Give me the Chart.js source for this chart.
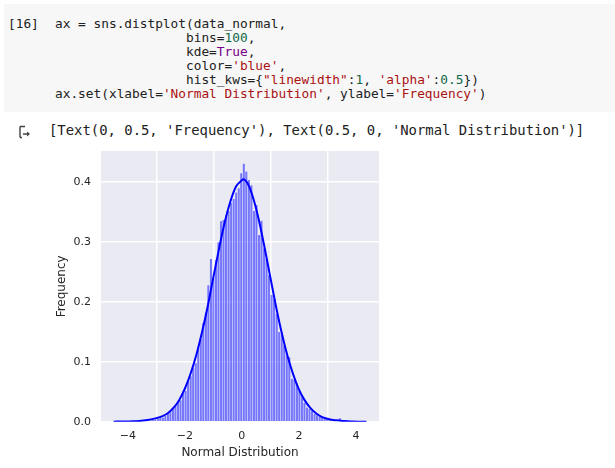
<!DOCTYPE html>
<html>
<head>
<meta charset="utf-8">
<script src="https://cdn.jsdelivr.net/npm/chart.js@4.4.0/dist/chart.umd.min.js"></script>
<style>
  html, body { margin: 0; padding: 0; background: #fff; width: 615px; height: 468px; overflow: hidden; }
  .cell { position: absolute; left: 4px; top: 4px; width: 611px; height: 108px; background: #f7f7f7; }
  .prompt, pre.code { position: absolute; top: 17px; margin: 0; font: 12.8px/13.9px "DejaVu Sans Mono", monospace; color: #212121; }
  .prompt { left: 8px; }
  pre.code { left: 55px; }
  .num { color: #116644; }
  .kw { color: #770088; }
  .str { color: #a11; }
  .out { position: absolute; left: 49px; top: 121px; font: 13.9px/18px "DejaVu Sans Mono", monospace; color: #212121; white-space: pre; }
  svg.icon { position: absolute; left: 18px; top: 125px; }
  #chart { position: absolute; left: 0; top: 0; }
</style>
</head>
<body>
<div class="cell"></div>
<div class="prompt">[16]</div>
<pre class="code">ax = sns.distplot(data_normal,
                 bins=<span class="num">100</span>,
                 kde=<span class="kw">True</span>,
                 color=<span class="str">'blue'</span>,
                 hist_kws={<span class="str">"linewidth"</span>:<span class="num">1</span>, <span class="str">'alpha'</span>:<span class="num">0.5</span>})
ax.set(xlabel=<span class="str">'Normal Distribution'</span>, ylabel=<span class="str">'Frequency'</span>)</pre>
<svg class="icon" width="14" height="14" viewBox="0 0 14 14">
  <path d="M2 1.5 H7 M2 1.5 V12.5 M2 12.5 H4 M5 9 H11" stroke="#424242" stroke-width="1.4" fill="none"/>
  <path d="M9 6.5 L12 9 L9 11.5 Z" fill="#424242"/>
</svg>
<div class="out">[Text(0, 0.5, 'Frequency'), Text(0.5, 0, 'Normal Distribution')]</div>
<canvas id="chart" width="615" height="468"></canvas>

<script>
// histogram bins (density), 100 bins between the data min and max
const binLo = -4.50, binHi = 4.37, binCount = 100;
const binHeights = [
  0.001, 0, 0, 0, 0, 0.001, 0, 0, 0.001, 0,
  0.001, 0.001, 0.001, 0.002, 0.002, 0.003, 0.004, 0.006, 0.008, 0.007,
  0.010, 0.014, 0.016, 0.021, 0.027, 0.033, 0.036, 0.047, 0.052, 0.068,
  0.076, 0.090, 0.098, 0.124, 0.138, 0.165, 0.182, 0.228, 0.272, 0.240,
  0.270, 0.300, 0.335, 0.337, 0.345, 0.352, 0.366, 0.372, 0.383, 0.390,
  0.415, 0.431, 0.418, 0.404, 0.395, 0.352, 0.362, 0.312, 0.336, 0.290,
  0.272, 0.245, 0.212, 0.205, 0.180, 0.150, 0.146, 0.128, 0.111, 0.108,
  0.072, 0.070, 0.064, 0.052, 0.042, 0.032, 0.024, 0.022, 0.018, 0.013,
  0.011, 0.009, 0.007, 0.006, 0.004, 0.003, 0.002, 0.002, 0.001, 0.006,
  0.001, 0, 0.001, 0, 0, 0, 0.001, 0, 0, 0.001
];

// kde curve
const kdeX = [-4.5, -4.2, -3.9, -3.6, -3.3, -3.0, -2.8, -2.6, -2.4, -2.2, -2.0, -1.8, -1.6, -1.4, -1.2, -1.0,
  -0.8, -0.6, -0.4, -0.2, 0.0, 0.05, 0.2, 0.4, 0.6, 0.8, 1.0, 1.2, 1.4, 1.6, 1.8, 2.0, 2.2, 2.4, 2.6, 2.8,
  3.0, 3.2, 3.4, 3.6, 3.9, 4.2, 4.37];
const kdeY = [0.0001, 0.0002, 0.0005, 0.0012, 0.003, 0.006, 0.009, 0.014, 0.023, 0.036, 0.055, 0.080, 0.111, 0.149, 0.192, 0.241,
  0.289, 0.333, 0.368, 0.393, 0.403, 0.405, 0.398, 0.373, 0.336, 0.290, 0.241, 0.192, 0.148, 0.110, 0.079, 0.054, 0.036, 0.023, 0.014, 0.008,
  0.005, 0.003, 0.002, 0.001, 0.0004, 0.0001, 0.0001];

const xTickValues = [-4, -2, 0, 2, 4];
const xTickLabels = ['\u22124', '\u22122', '0', '2', '4'];
const yTickValues = [0, 0.1, 0.2, 0.3, 0.4];
const yTickLabels = ['0.0', '0.1', '0.2', '0.3', '0.4'];

const binStep = (binHi - binLo) / binCount;
const histPoints = binHeights.map((h, i) => ({ x: binLo + (i + 0.5) * binStep, y: h }));
const kdePoints = kdeX.map((x, i) => ({ x: x, y: kdeY[i] }));

// seaborn darkgrid background behind the grid
const plotBg = {
  id: 'plotBg',
  beforeDraw(chart) {
    const { ctx, chartArea: a } = chart;
    ctx.save();
    ctx.fillStyle = '#eaeaf2';
    ctx.fillRect(a.left, a.top, a.right - a.left, a.bottom - a.top);
    ctx.restore();
  }
};

const textColor = '#262626';
const tickFont = { family: 'DejaVu Sans', size: 11 };
const titleFont = { family: 'DejaVu Sans', size: 12 };

new Chart(document.getElementById('chart'), {
  type: 'bar',
  data: {
    datasets: [
      {
        type: 'line',
        data: kdePoints,
        borderColor: '#0000ff',
        borderWidth: 2,
        pointRadius: 0,
        fill: false,
        cubicInterpolationMode: 'monotone',
        order: 0
      },
      {
        type: 'bar',
        data: histPoints,
        backgroundColor: 'rgba(0, 0, 255, 0.5)',
        borderColor: 'rgba(255, 255, 255, 0.5)',
        borderWidth: { top: 0.5, left: 0.5, right: 0.5, bottom: 0 },
        barPercentage: 1,
        categoryPercentage: 1,
        order: 1
      }
    ]
  },
  options: {
    responsive: false,
    animation: false,
    layout: { padding: { left: 54.5, top: 151, right: 236, bottom: 8.3 } },
    plugins: { legend: { display: false }, tooltip: { enabled: false } },
    scales: {
      x: {
        type: 'linear',
        min: -4.94,
        max: 4.81,
        offset: false,
        afterFit(s) { s.height = 38; },
        afterBuildTicks(s) { s.ticks = xTickValues.map(v => ({ value: v })); },
        grid: { color: '#ffffff', lineWidth: 1.5, drawTicks: false },
        border: { display: false },
        ticks: {
          padding: 7.5, color: textColor, font: tickFont, maxRotation: 0,
          callback: (v) => xTickLabels[xTickValues.indexOf(v)]
        },
        title: { display: true, text: 'Normal Distribution', color: textColor, font: titleFont, padding: 0 }
      },
      y: {
        min: 0,
        max: 0.452,
        afterFit(s) { s.width = 46.5; },
        afterBuildTicks(s) { s.ticks = yTickValues.map(v => ({ value: v })); },
        grid: { color: '#ffffff', lineWidth: 1.5, drawTicks: false },
        border: { display: false },
        ticks: {
          padding: 10, color: textColor, font: tickFont,
          callback: (v) => yTickLabels[yTickValues.indexOf(v)]
        },
        title: { display: true, text: 'Frequency', color: textColor, font: titleFont, padding: 0 }
      }
    }
  },
  plugins: [plotBg]
});
</script>
</body>
</html>
